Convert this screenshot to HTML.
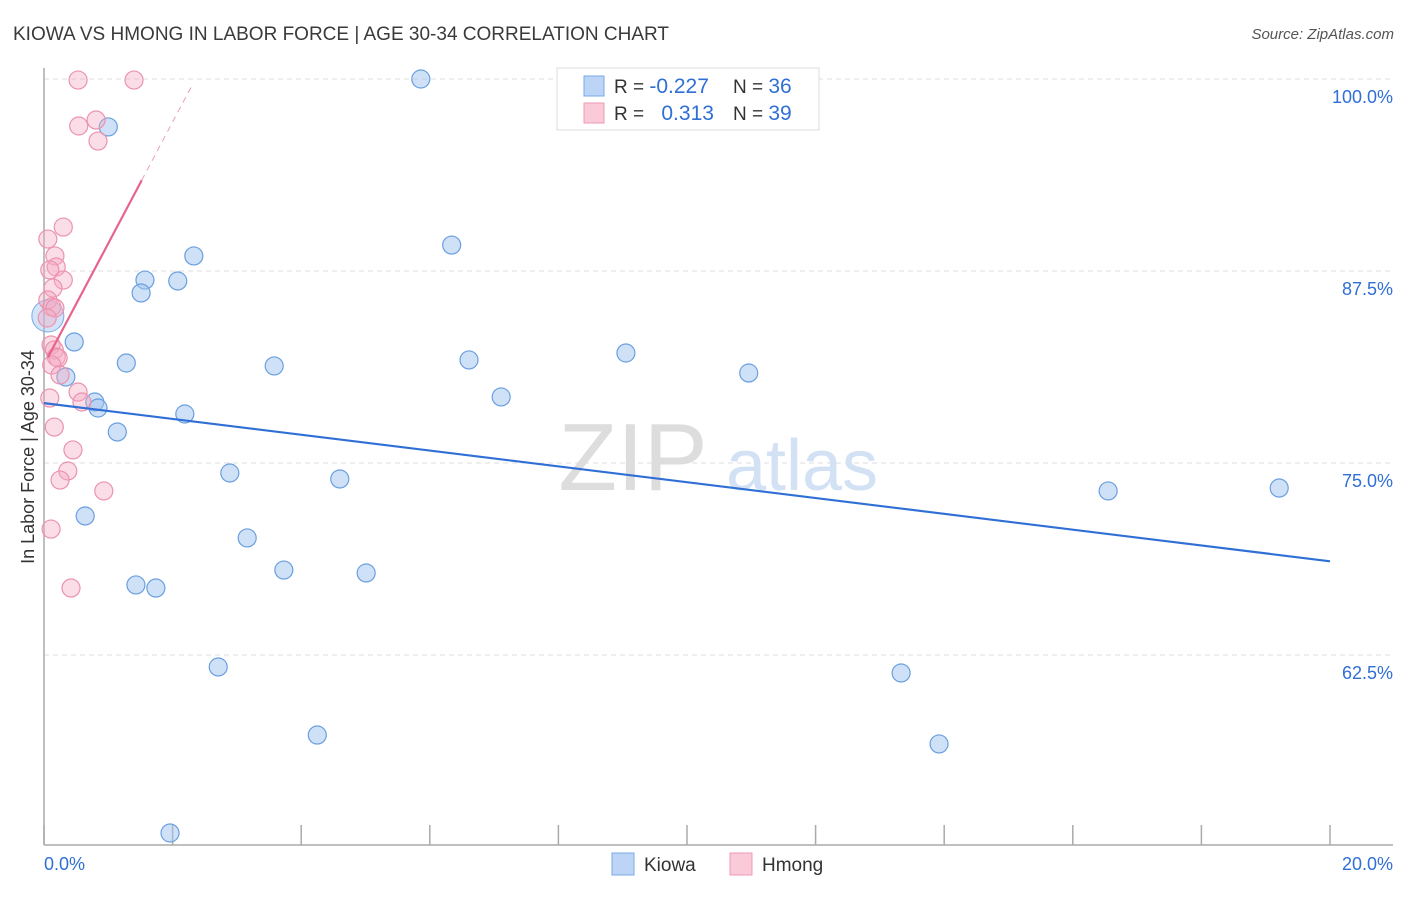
<!DOCTYPE html>
<html><head><meta charset="utf-8"><style>
body{margin:0;background:#fff;font-family:"Liberation Sans",sans-serif}
svg text{font-family:"Liberation Sans",sans-serif}
</style></head><body>
<svg id="chart" width="1406" height="892" viewBox="0 0 1406 892" xmlns="http://www.w3.org/2000/svg">
<text x="13" y="40" font-size="19" fill="#3a3a3a">KIOWA VS HMONG IN LABOR FORCE | AGE 30-34 CORRELATION CHART</text>
<text x="1394" y="39" font-size="15" fill="#555" text-anchor="end" font-style="italic">Source: ZipAtlas.com</text>
<g id="grid"></g>
<g>
<text x="633" y="490" font-size="96" fill="#ddd" text-anchor="middle" font-family="Liberation Serif, serif">ZIP</text>
<text x="802" y="490" font-size="72" fill="#d3e1f5" text-anchor="middle">atlas</text>
</g>
<g id="axes"></g>
<g id="marks"></g>
<text transform="translate(34,457) rotate(-90)" font-size="18" fill="#333" text-anchor="middle">In Labor Force | Age 30-34</text>
<g>
<rect x="557" y="68" width="262" height="62" fill="#fff" stroke="#ddd"/>
<rect x="584" y="76" width="20" height="20" fill="#bcd4f6" stroke="#7aaae6"/>
<rect x="584" y="103" width="20" height="20" fill="#fbcad9" stroke="#ec9ab4"/>
<text x="614" y="93" font-size="19" fill="#333">R = <tspan fill="#2f6fd6" font-size="21">-0.227</tspan></text>
<text x="733" y="93" font-size="19" fill="#333">N = <tspan fill="#2f6fd6" font-size="21">36</tspan></text>
<text x="614" y="120" font-size="19" fill="#333">R = <tspan fill="#2f6fd6" dx="12" font-size="21">0.313</tspan></text>
<text x="733" y="120" font-size="19" fill="#333">N = <tspan fill="#2f6fd6" font-size="21">39</tspan></text>
</g>
<g>
<rect x="612" y="853" width="22" height="22" fill="#bcd4f6" stroke="#7aaae6"/>
<text x="644" y="871" font-size="19" fill="#333">Kiowa</text>
<rect x="730" y="853" width="22" height="22" fill="#fbcad9" stroke="#ec9ab4"/>
<text x="762" y="871" font-size="19" fill="#333">Hmong</text>
</g>
</svg>
<script>
const yTicks=[100,87.5,75,62.5];
const yTickLabels=["100.0%","87.5%","75.0%","62.5%"];
const xTicks=[0,2,4,6,8,10,12,14,16,18,20];
const kiowaX=[1.00,5.86,6.34,2.33,1.57,2.08,1.51,0.47,1.28,3.58,6.61,9.05,10.96,0.34,0.79,0.84,2.19,7.11,1.14,2.89,4.60,0.64,3.16,3.73,5.01,1.43,1.74,2.71,4.25,1.96,13.33,13.92,16.55,19.21];
const kiowaY=[96.88,100,89.19,88.48,86.91,86.85,86.07,82.88,81.51,81.32,81.71,82.16,80.86,80.60,78.97,78.58,78.19,79.30,77.02,74.35,73.96,71.55,70.12,68.03,67.84,67.06,66.86,61.72,57.29,50.91,61.33,56.71,73.18,73.37];
const hmongX=[0.53,1.40,0.54,0.81,0.84,0.30,0.06,0.17,0.19,0.09,0.30,0.14,0.06,0.12,0.17,0.05,0.11,0.16,0.19,0.22,0.12,0.25,0.53,0.59,0.09,0.16,0.45,0.37,0.25,0.93,0.11,0.42];
const hmongY=[99.93,99.93,96.94,97.33,95.96,90.36,89.58,88.48,87.76,87.57,86.91,86.39,85.61,85.16,85.09,84.44,82.68,82.36,81.90,81.84,81.38,80.73,79.62,78.97,79.23,77.34,75.85,74.48,73.89,73.18,70.70,66.86];
const kiowaTrend=[78.9,68.6];
const hmongTrend=[81.4,7.9];
const NS="http://www.w3.org/2000/svg";
const X=v=>44+v*64.3, Y=v=>79+(100-v)*15.36;
function mk(t,a,p){const e=document.createElementNS(NS,t);for(const k in a)e.setAttribute(k,a[k]);p.appendChild(e);return e;}
const grid=document.getElementById('grid'),axes=document.getElementById('axes'),marks=document.getElementById('marks');
yTicks.forEach((v,i)=>{
 const l=mk('line',{x1:44,x2:1393,y1:Y(v),y2:Y(v),stroke:'#ddd','stroke-dasharray':'5,4'},grid);
 
 
 const t=mk('text',{x:1393,y:Y(v)+24,'font-size':18,fill:'#2f6fd6','text-anchor':'end'},axes);
 t.textContent=yTickLabels[i];
 
 
});
mk('line',{x1:44,x2:44,y1:68,y2:845,stroke:'#aaa','stroke-width':1.5},axes);
mk('line',{x1:44,x2:1393,y1:845,y2:845,stroke:'#aaa','stroke-width':1.5},axes);
xTicks.forEach(v=>{const l=mk('line',{x1:X(v),x2:X(v),y1:825,y2:845,stroke:'#aaa','stroke-width':1.5},axes);
 
 });
let t0=mk('text',{x:44,y:870,'font-size':18,fill:'#2f6fd6'},axes);t0.textContent='0.0%';


let t1=mk('text',{x:1393,y:870,'font-size':18,fill:'#2f6fd6','text-anchor':'end'},axes);t1.textContent='20.0%';


let bp=mk('circle',{cx:X(0.06),cy:Y(84.57),r:16,fill:'rgba(160,195,240,0.45)',stroke:'#7aaae6'},marks);


kiowaX.forEach((x,i)=>{const c=mk('circle',{cx:X(x),cy:Y(kiowaY[i]),r:9,fill:'rgba(160,195,240,0.5)',stroke:'#6a9fe0','stroke-width':1.2},marks);
 
 });
hmongX.forEach((x,i)=>{const c=mk('circle',{cx:X(x),cy:Y(hmongY[i]),r:9,fill:'rgba(245,170,195,0.4)',stroke:'#eb93ae','stroke-width':1.2},marks);
 
 });
const kl=mk('line',{x1:X(0),y1:Y(kiowaTrend[0]),x2:X(20),y2:Y(kiowaTrend[1]),stroke:'#2f6fd6','stroke-width':2.2},marks);


const hy=x=>hmongTrend[0]+hmongTrend[1]*x;
const hl=mk('line',{x1:X(0.06),y1:Y(hy(0.06)),x2:X(1.52),y2:Y(hy(1.52)),stroke:'#e8638c','stroke-width':2.2},marks);


const hd=mk('line',{x1:X(1.52),y1:Y(hy(1.52)),x2:X(2.3),y2:Y(hy(2.3)),stroke:'#e8a0b5','stroke-width':1,'stroke-dasharray':'6,5'},marks);


</script>
</body></html>
